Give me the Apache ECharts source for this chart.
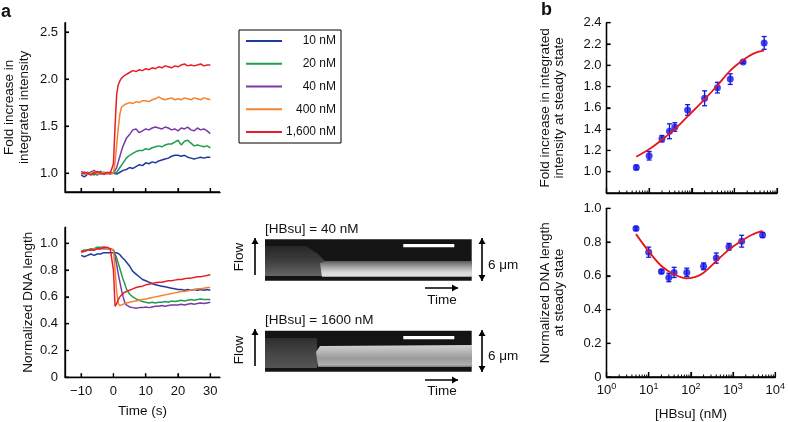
<!DOCTYPE html>
<html><head><meta charset="utf-8">
<script src="https://cdn.jsdelivr.net/npm/echarts@6/dist/echarts.min.js"></script>
<style>html,body{margin:0;padding:0;background:#fff}#c{width:788px;height:422px}
#dbg{position:absolute;left:350px;top:18px;width:188px;font:8px monospace;line-height:9px;color:#c00;white-space:pre-wrap;word-break:break-all;pointer-events:none}</style>
</head><body><div id="c"></div><div id="dbg"></div>
<script>
const DBG = [];
window.onerror = function(m,s,l,c){ DBG.push('ERR '+m+' @'+l+':'+c); showDbg(); };
function showDbg(){ const d=document.getElementById('dbg'); if(d) d.textContent = DBG.join('\n'); }
</script>
<script>
// ---------- DATA ----------
const timeS = [-10,-9,-8,-7,-6,-5,-4,-3,-2,-1,0,0.5,1,1.5,2,2.5,3,3.5,4,5,6,7,8,9,10,11,12,13,14,15,16,17,18,19,20,21,22,23,24,25,26,27,28,29,30];
const seriesNames = ['10 nM','20 nM','40 nM','400 nM','1,600 nM'];
const seriesColors = ['#1f3c9c','#1e9e4c','#7b3aa6','#f5822f','#e61e28'];

const intens10 = [0.98,0.96,0.99,1.01,1.00,0.98,1.02,0.99,1.00,1.01, 1.00,1.00,0.99,1.01,1.01,1.02,1.03,1.02,1.04, 1.06,1.05,1.07,1.09,1.08,1.11,1.10,1.12,1.11,1.13,1.14,1.15,1.16,1.18,1.19,1.19,1.18,1.19,1.17,1.16,1.15,1.16,1.17,1.16,1.17,1.17];
const intens20 = [1.00,0.99,1.01,1.00,0.98,1.00,1.01,0.99,1.00,1.00, 1.00,1.00,1.01,1.03,1.06,1.08,1.11,1.13,1.16, 1.19,1.21,1.23,1.24,1.24,1.26,1.25,1.27,1.28,1.29,1.28,1.30,1.31,1.31,1.33,1.35,1.30,1.34,1.35,1.32,1.29,1.30,1.29,1.28,1.29,1.27];
const intens40 = [1.02,1.00,0.99,1.01,1.03,1.00,0.99,1.01,1.00,0.99, 1.00,1.02,1.06,1.12,1.18,1.24,1.29,1.33,1.37, 1.41,1.46,1.47,1.43,1.45,1.47,1.46,1.48,1.49,1.48,1.47,1.49,1.48,1.46,1.47,1.45,1.48,1.47,1.49,1.46,1.45,1.48,1.46,1.47,1.45,1.42];
const intens400 = [1.00,1.01,0.99,1.00,1.02,0.99,1.00,1.01,0.99,1.00, 1.00,1.12,1.30,1.48,1.63,1.70,1.72,1.73,1.74, 1.75,1.74,1.76,1.75,1.77,1.77,1.76,1.78,1.79,1.81,1.79,1.78,1.79,1.80,1.78,1.79,1.78,1.80,1.79,1.78,1.80,1.79,1.78,1.80,1.79,1.78];
const intens1600 = [0.99,1.01,1.00,0.98,1.00,1.02,1.00,0.99,1.01,1.00, 1.10,1.50,1.84,1.94,1.98,2.01,2.03,2.04,2.06, 2.07,2.09,2.08,2.10,2.09,2.11,2.10,2.12,2.11,2.13,2.12,2.14,2.13,2.12,2.14,2.13,2.15,2.16,2.14,2.15,2.14,2.15,2.16,2.14,2.15,2.15];

const len10 = [0.91,0.90,0.91,0.92,0.91,0.92,0.92,0.93,0.93,0.93, 0.93,0.93,0.93,0.92,0.915,0.90,0.89,0.875,0.86, 0.83,0.79,0.77,0.75,0.73,0.72,0.71,0.70,0.69,0.685,0.68,0.675,0.67,0.665,0.66,0.655,0.655,0.65,0.655,0.65,0.655,0.65,0.655,0.65,0.655,0.65];
const len20 = [0.94,0.95,0.95,0.96,0.96,0.97,0.97,0.97,0.96,0.96, 0.95,0.92,0.89,0.85,0.81,0.77,0.73,0.70,0.66, 0.62,0.60,0.585,0.575,0.565,0.56,0.555,0.56,0.555,0.56,0.56,0.565,0.56,0.57,0.565,0.57,0.575,0.57,0.575,0.58,0.575,0.58,0.585,0.58,0.58,0.58];
const len40 = [0.93,0.94,0.95,0.95,0.95,0.96,0.96,0.96,0.96,0.96, 0.95,0.90,0.84,0.77,0.71,0.65,0.60,0.56,0.54, 0.525,0.52,0.515,0.52,0.52,0.525,0.52,0.525,0.53,0.53,0.535,0.53,0.535,0.54,0.54,0.54,0.545,0.54,0.545,0.55,0.545,0.55,0.555,0.55,0.555,0.56];
const len400 = [0.93,0.94,0.95,0.95,0.96,0.96,0.96,0.97,0.96,0.96, 0.95,0.80,0.64,0.55,0.535,0.54,0.545,0.55,0.555, 0.56,0.565,0.57,0.575,0.58,0.585,0.59,0.595,0.60,0.605,0.61,0.615,0.62,0.625,0.63,0.635,0.64,0.64,0.645,0.65,0.655,0.66,0.66,0.665,0.67,0.67];
const len1600 = [0.94,0.94,0.95,0.95,0.95,0.96,0.96,0.97,0.97,0.96, 0.80,0.53,0.55,0.58,0.60,0.615,0.625,0.635,0.64, 0.65,0.66,0.67,0.675,0.68,0.69,0.695,0.70,0.705,0.71,0.71,0.715,0.72,0.72,0.725,0.73,0.73,0.735,0.74,0.74,0.745,0.75,0.75,0.755,0.76,0.765];

const conc = [5,10,20,30,40,80,200,400,800,1600,5000];
const foldSS = [1.04,1.15,1.31,1.38,1.42,1.58,1.69,1.79,1.87,2.03,2.21];
const foldErr = [0.02,0.04,0.03,0.07,0.04,0.05,0.07,0.05,0.05,0.01,0.06];
const lenSS = [0.88,0.74,0.625,0.59,0.62,0.62,0.656,0.705,0.772,0.805,0.842];
const lenErr = [0.01,0.03,0.01,0.025,0.03,0.025,0.02,0.03,0.02,0.035,0.015];

const foldFitX = [5,10,20,40,80,200,400,800,1600,2800,5000];
const foldFitY = [1.14,1.21,1.30,1.40,1.52,1.68,1.81,1.95,2.05,2.11,2.14];
const lenFitX = [5,10,20,40,80,130,200,400,800,1600,2800,5000];
const lenFitY = [0.847,0.745,0.658,0.609,0.585,0.593,0.618,0.687,0.755,0.808,0.843,0.866];

const timeTicks = [-10,0,10,20,30];
const foldTicksA = [1.0,1.5,2.0,2.5];
const lenTicksA = [0,0.2,0.4,0.6,0.8,1.0];
const foldTicksB = [1.0,1.2,1.4,1.6,1.8,2.0,2.2,2.4];
const logMajorTicks = [1,10,100,1000,10000];
const logMinorTicks = [2,3,4,5,6,7,8,9,20,30,40,50,60,70,80,90,200,300,400,500,600,700,800,900,2000,3000,4000,5000,6000,7000,8000,9000];

// ---------- CHART ----------
const FONT = 'Liberation Sans, Arial, sans-serif';
const TXT = '#111';
const intensAll = [intens10,intens20,intens40,intens400,intens1600];
const lenAll = [len10,len20,len40,len400,len1600];
const axLine = extra => Object.assign({show:true,lineStyle:{color:'#000',width:1.3}}, extra||{});
const axTick = extra => Object.assign({show:true,inside:true,length:4,lineStyle:{color:'#000',width:1.2}}, extra||{});
const lbl = extra => Object.assign({show:true,color:TXT,fontSize:13,fontFamily:FONT}, extra||{});
const nameStyle = extra => Object.assign({color:TXT,fontSize:13.5,fontFamily:FONT}, extra||{});
const fmt1 = v => (v===0 ? '0' : v.toFixed(1));

function errItem(params, api){
  const x=api.value(0), y=api.value(1), e=api.value(2);
  const p1=api.coord([x,y+e]), p2=api.coord([x,y-e]);
  const w=2.5, st={stroke:'#1414e6',lineWidth:1.3};
  return {type:'group',children:[
    {type:'line',shape:{x1:p1[0],y1:p1[1],x2:p2[0],y2:p2[1]},style:st},
    {type:'line',shape:{x1:p1[0]-w,y1:p1[1],x2:p1[0]+w,y2:p1[1]},style:st},
    {type:'line',shape:{x1:p2[0]-w,y1:p2[1],x2:p2[0]+w,y2:p2[1]},style:st}
  ]};
}

const series = [];
for (let i=0;i<5;i++){
  series.push({type:'line',name:seriesNames[i],xAxisIndex:0,yAxisIndex:0,
    data:timeS.map((t,k)=>[t,intensAll[i][k]]),showSymbol:false,symbol:'none',
    lineStyle:{width:1.5,color:seriesColors[i]},itemStyle:{color:seriesColors[i]},z:2+i});
}
for (let i=0;i<5;i++){
  series.push({type:'line',name:seriesNames[i],xAxisIndex:1,yAxisIndex:1,
    data:timeS.map((t,k)=>[t,lenAll[i][k]]),showSymbol:false,symbol:'none',
    lineStyle:{width:1.5,color:seriesColors[i]},itemStyle:{color:seriesColors[i]},z:2+i});
}
series.push(
  {type:'custom',name:'foldErr',xAxisIndex:2,yAxisIndex:2,renderItem:errItem,
   data:conc.map((c,i)=>[c,foldSS[i],foldErr[i]]),encode:{x:0,y:1},z:3},
  {type:'scatter',name:'foldPts',xAxisIndex:2,yAxisIndex:2,symbolSize:7,
   itemStyle:{color:'#1414e6'},data:conc.map((c,i)=>[c,foldSS[i]]),z:4},
  {type:'line',name:'foldFit',xAxisIndex:2,yAxisIndex:2,smooth:0.35,showSymbol:false,symbol:'none',
   lineStyle:{color:'#e8141c',width:1.8},data:foldFitX.map((c,i)=>[c,foldFitY[i]]),z:5},
  {type:'custom',name:'lenErr',xAxisIndex:3,yAxisIndex:3,renderItem:errItem,
   data:conc.map((c,i)=>[c,lenSS[i],lenErr[i]]),encode:{x:0,y:1},z:3},
  {type:'scatter',name:'lenPts',xAxisIndex:3,yAxisIndex:3,symbolSize:7,
   itemStyle:{color:'#1414e6'},data:conc.map((c,i)=>[c,lenSS[i]]),z:4},
  {type:'line',name:'lenFit',xAxisIndex:3,yAxisIndex:3,smooth:0.35,showSymbol:false,symbol:'none',
   lineStyle:{color:'#e8141c',width:1.8},data:lenFitX.map((c,i)=>[c,lenFitY[i]]),z:5}
);

const logX = (gi, showLabels) => ({
  type:'log',gridIndex:gi,logBase:10,min:1,max:10000,
  axisLine:axLine(),
  axisTick:axTick({length:5}),
  splitLine:{show:false},
  axisLabel: showLabels ? lbl({margin:5,
     formatter:v=>'10{s|'+Math.round(Math.log10(v))+'}',
     rich:{s:{fontSize:9,fontFamily:FONT,color:TXT,verticalAlign:'top',padding:[0,0,7,0]}}}) : {show:false},
  name: showLabels ? '[HBsu] (nM)' : '',
  nameLocation:'middle',nameGap:30,nameTextStyle:nameStyle()
});
const anchorX = gi => ({type:'value',gridIndex:gi,min:1,max:2,show:false});

function seg(x1,y1,x2,y2,w){
  return {type:'line',z:120,shape:{x1:x1,y1:y1,x2:x2,y2:y2},style:{stroke:'#000',lineWidth:w}};
}
function arrowHead(x,y,dx,dy){
  const L=6,W=3.5,len=Math.hypot(dx,dy),ux=dx/len,uy=dy/len,px=-uy,py=ux;
  return {type:'polygon',shape:{points:[[x,y],[x-ux*L+px*W,y-uy*L+py*W],[x-ux*L-px*W,y-uy*L-py*W]]},style:{fill:'#000'}};
}
function arrow(x1,y1,x2,y2,both){
  const els=[{type:'line',shape:{x1:x1,y1:y1,x2:x2,y2:y2},style:{stroke:'#000',lineWidth:1.6}},
    arrowHead(x2,y2,x2-x1,y2-y1)];
  if(both) els.push(arrowHead(x1,y1,x1-x2,y1-y2));
  return els;
}
function txt(x,y,s,extra){
  return {type:'text',x:x,y:y,style:Object.assign({text:s,fill:TXT,fontSize:13.5,fontFamily:FONT,align:'left',verticalAlign:'middle'},extra||{})};
}
const vg = stops => ({type:'linear',x:0,y:0,x2:0,y2:1,colorStops:stops.map(s=>({offset:s[0],color:s[1]}))});

const graphics = [
  txt(1,12,'a',{fontSize:18,fontWeight:'bold'}),
  txt(541,10,'b',{fontSize:18,fontWeight:'bold'}),
  txt(265,229,'[HBsu] = 40 nM'),
  {type:'rect',shape:{x:265,y:239.3,width:206.7,height:41.4},style:{fill:'#141414'}},
  {type:'polygon',shape:{points:[[265,246],[306,246],[318,254],[328,264],[330,276],[265,276]]},
   style:{fill:vg([[0,'#262626'],[0.5,'#3e3e3e'],[0.85,'#5a5a5a'],[1,'#666']])}},
  {type:'polygon',shape:{points:[[320,263],[326,261],[472,261],[472,277],[322,277]]},
   style:{fill:vg([[0,'#5a5a5a'],[0.35,'#a0a0a0'],[0.7,'#d6d6d6'],[0.9,'#e0e0e0'],[1,'#8a8a8a']])}},
  {type:'rect',shape:{x:403.3,y:244,width:51,height:3.3},style:{fill:'#fff'}},
  Object.assign(txt(239,257,'Flow',{align:'center'}),{rotation:Math.PI/2}),
  ...arrow(255,275,255,238),
  ...arrow(482,281,482,238,true),
  txt(488,265,'6 μm'),
  ...arrow(425,288,458,288),
  txt(442,300,'Time',{align:'center'}),
  txt(265,320,'[HBsu] = 1600 nM'),
  {type:'rect',shape:{x:265,y:330.7,width:206.7,height:41},style:{fill:'#141414'}},
  {type:'rect',shape:{x:265,y:338,width:52,height:30},
   style:{fill:vg([[0,'#2e2e2e'],[0.5,'#444'],[1,'#555']])}},
  {type:'polygon',shape:{points:[[316,352],[320,346],[472,345],[472,367],[318,367]]},
   style:{fill:vg([[0,'#d0d0d0'],[0.2,'#c0c0c0'],[0.6,'#9a9a9a'],[0.9,'#b0b0b0'],[1,'#777']])}},
  {type:'rect',shape:{x:403.3,y:336,width:51,height:3.3},style:{fill:'#fff'}},
  Object.assign(txt(239,350,'Flow',{align:'center'}),{rotation:Math.PI/2}),
  ...arrow(255,366,255,329),
  ...arrow(482,372,482,330,true),
  txt(488,356,'6 μm'),
  ...arrow(425,380,458,380),
  txt(442,391,'Time',{align:'center'})
];

const gridRects = [
  {left:65,top:22.6,width:155,height:169.4},
  {left:65,top:227.2,width:155,height:150.1},
  {left:606.5,top:22.7,width:170.5,height:170.3},
  {left:606.5,top:208.3,width:170.5,height:170.7}
];

const option = {
  animation:false,
  backgroundColor:'#fff',
  textStyle:{fontFamily:FONT},
  grid:gridRects,
  legend:{
    data:seriesNames,orient:'vertical',left:239,top:30,
    icon:'rect',itemWidth:36,itemHeight:2,itemGap:8.75,
    padding:[4,5,4,7],borderColor:'#000',borderWidth:1,
    selectedMode:false,
    formatter:n=>'{r|'+n+'}',
    textStyle:{color:TXT,fontSize:12,fontFamily:FONT,lineHeight:14,
      rich:{r:{width:49,align:'right',fontSize:12,fontFamily:FONT,color:TXT,lineHeight:14}}}
  },
  xAxis:[
    {type:'value',gridIndex:0,min:-15,max:33,axisLine:axLine(),
     axisTick:axTick({customValues:timeTicks}),
     axisLabel:{show:false,customValues:timeTicks},splitLine:{show:false}},
    {type:'value',gridIndex:1,min:-15,max:33,axisLine:axLine(),
     axisTick:axTick({customValues:timeTicks}),
     axisLabel:lbl({customValues:timeTicks,margin:8,formatter:v=>(v<0?'\u2212'+(-v):''+v)}),
     splitLine:{show:false},name:'Time (s)',nameLocation:'middle',nameGap:27,nameTextStyle:nameStyle()},
    logX(2,false),
    logX(3,true),
    anchorX(0),
    anchorX(1)
  ],
  yAxis:[
    {type:'value',gridIndex:0,min:0.8,max:2.6,axisLine:axLine({onZeroAxisIndex:4}),
     axisTick:axTick({customValues:foldTicksA}),
     axisLabel:lbl({customValues:foldTicksA,margin:7,formatter:fmt1}),
     splitLine:{show:false},name:'Fold increase in\nintegrated intensity',nameLocation:'middle',nameGap:33,
     nameTextStyle:nameStyle({lineHeight:15})},
    {type:'value',gridIndex:1,min:0,max:1.12,axisLine:axLine({onZeroAxisIndex:5}),
     axisTick:axTick({customValues:lenTicksA}),
     axisLabel:lbl({customValues:lenTicksA,margin:7,formatter:fmt1}),
     splitLine:{show:false},name:'Normalized DNA length',nameLocation:'middle',nameGap:30,nameTextStyle:nameStyle()},
    {type:'value',gridIndex:2,min:0.8,max:2.4,axisLine:axLine(),
     axisTick:axTick({customValues:foldTicksB}),
     axisLabel:lbl({customValues:foldTicksB,margin:5,formatter:fmt1}),
     splitLine:{show:false},name:'Fold increase in integrated\nintensity at steady state',nameLocation:'middle',nameGap:40,
     nameTextStyle:nameStyle({lineHeight:14})},
    {type:'value',gridIndex:3,min:0,max:1,interval:0.2,axisLine:axLine(),axisTick:axTick(),
     axisLabel:lbl({margin:5,formatter:fmt1}),
     splitLine:{show:false},name:'Normalized DNA length\nat steady state',nameLocation:'middle',nameGap:40,
     nameTextStyle:nameStyle({lineHeight:14})}
  ],
  series:series,
  graphic:graphics
};
let chart;
try {
  chart = echarts.init(document.getElementById('c'));
  chart.setOption(option);
} catch(e) { DBG.push('SETOPT '+e.message); }

// Axis lines and tick marks, placed through the chart's own scales (fallback: grid rect)
const frame = [];
const panels = [
  {xi:0, yi:0, xt:timeTicks, yt:foldTicksA, xm:[], xl:4, log:false},
  {xi:1, yi:1, xt:timeTicks, yt:lenTicksA, xm:[], xl:4, log:false},
  {xi:2, yi:2, xt:logMajorTicks, yt:foldTicksB, xm:logMinorTicks, xl:5, log:true},
  {xi:3, yi:3, xt:logMajorTicks, yt:lenTicksA, xm:logMinorTicks, xl:5, log:true}
];
panels.forEach((p,gi) => {
  const xa = option.xAxis[p.xi], ya = option.yAxis[p.yi], r = gridRects[gi];
  const manual = v => {
    const fx = p.log ? (Math.log10(v[0])-Math.log10(xa.min))/(Math.log10(xa.max)-Math.log10(xa.min)) : (v[0]-xa.min)/(xa.max-xa.min);
    const fy = (v[1]-ya.min)/(ya.max-ya.min);
    return [r.left + fx*r.width, r.top + r.height - fy*r.height];
  };
  let usedLib = true;
  const px = v => {
    let q = null;
    try { q = chart.convertToPixel({xAxisIndex:p.xi, yAxisIndex:p.yi}, v); } catch(e) { q = null; }
    if (!q || !isFinite(q[0]) || !isFinite(q[1])) { usedLib = false; q = manual(v); }
    return q;
  };
  const o = px([xa.min, ya.min]), xe = px([xa.max, ya.min]), ye = px([xa.min, ya.max]);
  frame.push(seg(o[0],o[1],xe[0],xe[1],1.3), seg(o[0],o[1],ye[0],ye[1],1.3));
  p.xt.forEach(t => { const q = px([t, ya.min]); frame.push(seg(q[0],q[1],q[0],q[1]-p.xl,1.2)); });
  p.xm.forEach(t => { const q = px([t, ya.min]); frame.push(seg(q[0],q[1],q[0],q[1]-2.5,1)); });
  p.yt.forEach(t => { const q = px([xa.min, t]); frame.push(seg(q[0],q[1],q[0]+4,q[1],1.2)); });
  if (!usedLib) DBG.push('p'+gi+' manual o='+o.map(v=>v.toFixed(1)));
});
try { chart.setOption({graphic: graphics.concat(frame)}); } catch(e) { DBG.push('SETOPT2 '+e.message); }

// diagnostic: only reported if the frame lines are missing from the scene
setTimeout(() => {
  try {
    const list = chart.getZr().storage.getDisplayList(true);
    let blackLines = 0, hidden = 0;
    list.forEach(el => {
      if (el.type === 'line' && el.style && (el.style.stroke === '#000' || el.style.stroke === 'rgb(0,0,0)')) {
        blackLines++;
        if (el.invisible || el.ignore || el.style.opacity === 0) hidden++;
      }
    });
    if (blackLines < frame.length) {
      DBG.push('disp='+list.length+' blackLines='+blackLines+' hidden='+hidden+' frame='+frame.length);
    }
  } catch(e) { DBG.push('DIAG '+e.message); }
  showDbg();
}, 50);
showDbg();
</script></body></html>
